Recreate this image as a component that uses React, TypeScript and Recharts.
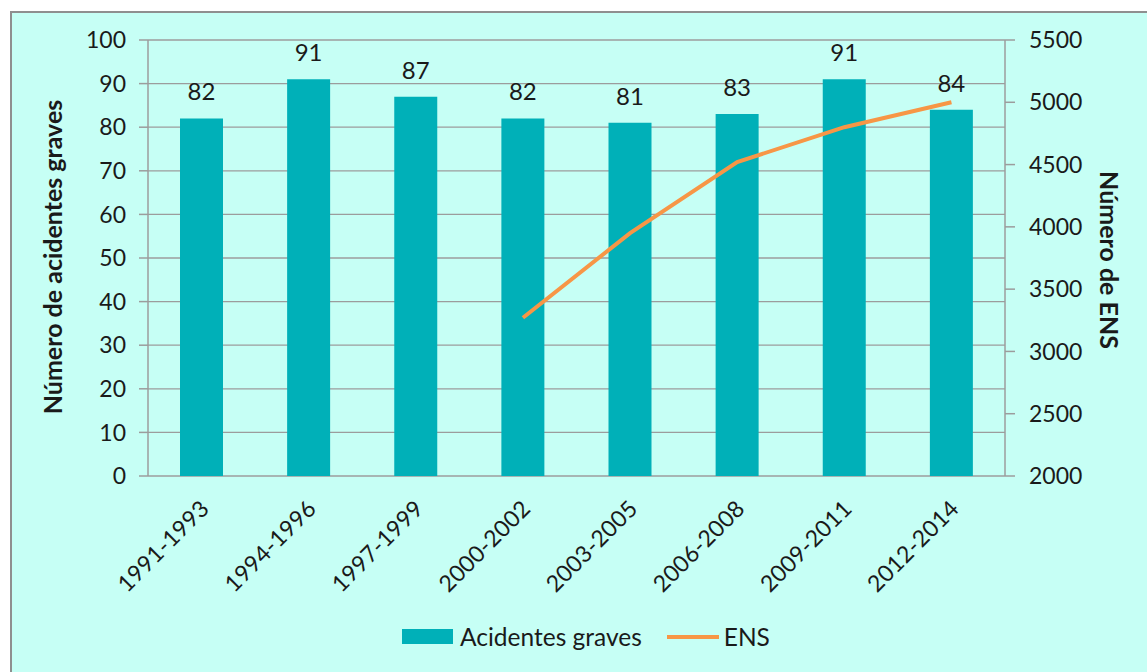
import { ComposedChart, Bar, Line, XAxis, YAxis, CartesianGrid, LabelList } from 'recharts';

const periods = ['1991-1993', '1994-1996', '1997-1999', '2000-2002', '2003-2005', '2006-2008', '2009-2011', '2012-2014'];
const accidents = [82, 91, 87, 82, 81, 83, 91, 84];
const ens = [null, null, null, 3270, 3950, 4520, 4800, 5000];
const leftTicks = [0, 10, 20, 30, 40, 50, 60, 70, 80, 90, 100];
const rightTicks = [2000, 2500, 3000, 3500, 4000, 4500, 5000, 5500];
const edgeTicks = [0, 1, 2, 3, 4, 5, 6, 7, 8];

const data = periods.map((p, i) => ({ period: p, accidents: accidents[i], ens: ens[i], idx: i + 0.5 }));

const FONT = 'Lato, "Open Sans", sans-serif';
const GRID = '#9c9c9c';
const TEXT = '#1a1a1a';

const PeriodTick = (props: any) => {
  const { x, y, payload } = props;
  return (
    <g transform={`translate(${x + 9},${y + 26})`}>
      <text textAnchor="end" transform="rotate(-45)" fontSize={23} fill={TEXT} fontFamily={FONT} letterSpacing={0.3}>
        {payload.value}
      </text>
    </g>
  );
};

const EmptyTick = () => <g />;

export default function App() {
  return (
    <div style={{ position: 'absolute', left: 0, top: 0, width: 1147, height: 672, overflow: 'hidden', fontFamily: FONT }}>
      <div style={{ position: 'absolute', left: 10, top: 11, width: 1150, height: 680, border: '2px solid #8f8f8f', background: '#c6fff5', boxSizing: 'border-box' }} />
      <div style={{ position: 'absolute', left: 0, top: 0 }}>
        <ComposedChart width={1147} height={672} data={data} margin={{ top: 40, right: 82, bottom: 96, left: 88 }}>
          <CartesianGrid vertical={false} stroke={GRID} strokeWidth={1.3} yAxisId="left" />
          <XAxis
            xAxisId="edges"
            type="number"
            dataKey="idx"
            domain={[0, 8]}
            ticks={edgeTicks}
            height={0}
            tick={EmptyTick}
            tickSize={8}
            tickLine={{ stroke: GRID, strokeWidth: 1.5 }}
            axisLine={{ stroke: GRID, strokeWidth: 1.5 }}
            allowDataOverflow
          />
          <XAxis
            xAxisId="cat"
            dataKey="period"
            height={100}
            interval={0}
            tickLine={false}
            axisLine={false}
            tick={PeriodTick}
          />
          <YAxis
            yAxisId="left"
            domain={[0, 100]}
            ticks={leftTicks}
            width={60}
            tickSize={9}
            tickMargin={13}
            tick={{ fill: TEXT, fontSize: 23, fontFamily: FONT }}
            tickLine={{ stroke: GRID, strokeWidth: 1.5 }}
            axisLine={{ stroke: GRID, strokeWidth: 1.5 }}
          />
          <YAxis
            yAxisId="right"
            orientation="right"
            domain={[2000, 5500]}
            ticks={rightTicks}
            width={60}
            tickSize={10}
            tickMargin={14}
            tick={{ fill: TEXT, fontSize: 23, fontFamily: FONT, textAnchor: 'start' }}
            tickLine={{ stroke: GRID, strokeWidth: 1.5 }}
            axisLine={{ stroke: GRID, strokeWidth: 1.5 }}
          />
          <Bar xAxisId="cat" yAxisId="left" dataKey="accidents" name="Acidentes graves" fill="#00b0b8" barSize={43} isAnimationActive={false}>
            <LabelList dataKey="accidents" position="top" offset={18} fill={TEXT} fontSize={24} fontFamily={FONT} />
          </Bar>
          <Line
            xAxisId="cat"
            yAxisId="right"
            dataKey="ens"
            name="ENS"
            stroke="#f79646"
            strokeWidth={4}
            dot={false}
            activeDot={false}
            connectNulls={false}
            isAnimationActive={false}
          />
          <text x={56} y={257} transform="rotate(-90 56 257)" textAnchor="middle" dominantBaseline="middle" fontSize={25} fontWeight={700} fill={TEXT} fontFamily={FONT}>
            Número de acidentes graves
          </text>
          <text x={1106} y={260} transform="rotate(90 1106 260)" textAnchor="middle" dominantBaseline="middle" fontSize={25} fontWeight={700} fill={TEXT} fontFamily={FONT}>
            Número  de ENS
          </text>
        </ComposedChart>
      </div>
      <div style={{ position: 'absolute', left: 402, top: 622, display: 'flex', alignItems: 'center', fontSize: 24.5, color: TEXT, whiteSpace: 'nowrap' }}>
        <span style={{ display: 'inline-block', width: 51, height: 15, background: '#00b0b8', marginRight: 7 }} />
        <span>Acidentes graves</span>
        <span style={{ display: 'inline-block', width: 52, height: 4, background: '#f79646', marginLeft: 25, marginRight: 5 }} />
        <span>ENS</span>
      </div>
    </div>
  );
}
